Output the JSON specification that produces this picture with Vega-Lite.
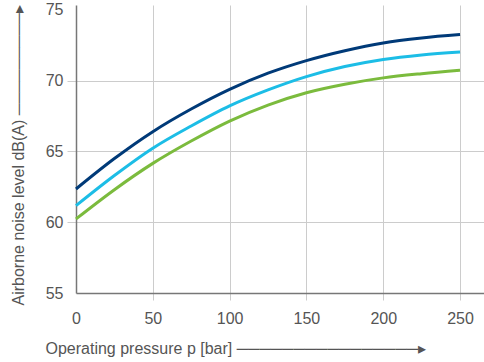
{
  "$schema": "https://vega.github.io/schema/vega-lite/v6.json",
  "width": 408,
  "height": 288,
  "autosize": {"type": "none"},
  "padding": {"left": 76, "top": 5, "right": 0, "bottom": 69},
  "background": "white",
  "config": {
    "view": {"stroke": null},
    "font": "Liberation Sans"
  },
  "data": {
    "values": [
      {"series": "A", "p": 0, "dB": 62.35},
      {"series": "A", "p": 25, "dB": 64.5},
      {"series": "A", "p": 50, "dB": 66.4},
      {"series": "A", "p": 75, "dB": 68.0},
      {"series": "A", "p": 100, "dB": 69.39},
      {"series": "A", "p": 125, "dB": 70.53},
      {"series": "A", "p": 150, "dB": 71.42},
      {"series": "A", "p": 175, "dB": 72.12},
      {"series": "A", "p": 200, "dB": 72.67},
      {"series": "A", "p": 225, "dB": 73.02},
      {"series": "A", "p": 250, "dB": 73.26},
      {"series": "B", "p": 0, "dB": 61.17},
      {"series": "B", "p": 25, "dB": 63.3},
      {"series": "B", "p": 50, "dB": 65.23},
      {"series": "B", "p": 75, "dB": 66.8},
      {"series": "B", "p": 100, "dB": 68.22},
      {"series": "B", "p": 125, "dB": 69.35},
      {"series": "B", "p": 150, "dB": 70.29},
      {"series": "B", "p": 175, "dB": 71.0},
      {"series": "B", "p": 200, "dB": 71.5},
      {"series": "B", "p": 225, "dB": 71.82},
      {"series": "B", "p": 250, "dB": 72.03},
      {"series": "C", "p": 0, "dB": 60.23},
      {"series": "C", "p": 25, "dB": 62.3},
      {"series": "C", "p": 50, "dB": 64.16},
      {"series": "C", "p": 75, "dB": 65.74},
      {"series": "C", "p": 100, "dB": 67.15},
      {"series": "C", "p": 125, "dB": 68.28},
      {"series": "C", "p": 150, "dB": 69.15},
      {"series": "C", "p": 175, "dB": 69.75},
      {"series": "C", "p": 200, "dB": 70.2},
      {"series": "C", "p": 225, "dB": 70.5},
      {"series": "C", "p": 250, "dB": 70.74}
    ]
  },
  "mark": {"type": "line", "strokeWidth": 3, "interpolate": "monotone"},
  "encoding": {
    "x": {
      "field": "p",
      "type": "quantitative",
      "scale": {"domain": [0, 265.6], "nice": false, "zero": false},
      "axis": {
        "values": [0, 50, 100, 150, 200, 250],
        "title": "Operating pressure p [bar]     ────────────────▸",
        "titleFont": "Liberation Sans",
        "titleFontSize": 16,
        "titleFontWeight": "normal",
        "titleColor": "#555555",
        "titleAnchor": "start",
        "titleAlign": "left",
        "titleBaseline": "middle",
        "titleX": -31,
        "titleY": 55,
        "labelFontSize": 16,
        "labelColor": "#555555",
        "labelPadding": 10,
        "labelFlush": false,
        "tickSize": 7,
        "tickColor": "#cccccc",
        "tickOpacity": {"condition": {"test": "datum.value == 0", "value": 0}, "value": 1},
        "grid": true,
        "gridColor": "#cccccc",
        "gridWidth": 1,
        "gridOpacity": {"condition": {"test": "datum.value == 0", "value": 0}, "value": 1},
        "domainColor": "#777777",
        "domainWidth": 1.5
      }
    },
    "y": {
      "field": "dB",
      "type": "quantitative",
      "scale": {"domain": [55, 75.35], "nice": false, "zero": false},
      "axis": {
        "values": [55, 60, 65, 70, 75],
        "title": "Airborne noise level dB(A) ─────────▸",
        "titleFont": "Liberation Sans",
        "titleFontSize": 16,
        "titleFontWeight": "normal",
        "titleColor": "#555555",
        "titleAngle": 270,
        "titleAnchor": "start",
        "titleAlign": "left",
        "titleBaseline": "middle",
        "titleX": -58,
        "titleY": 300,
        "labelFontSize": 16,
        "labelColor": "#555555",
        "labelPadding": 4,
        "labelFlush": false,
        "tickSize": 9,
        "tickColor": "#cccccc",
        "tickOpacity": {"condition": {"test": "datum.value == 55 || datum.value == 75", "value": 0}, "value": 1},
        "grid": true,
        "gridColor": "#cccccc",
        "gridWidth": 1,
        "gridOpacity": {"condition": {"test": "datum.value == 55 || datum.value == 75", "value": 0}, "value": 1},
        "domainColor": "#777777",
        "domainWidth": 1.5
      }
    },
    "color": {
      "field": "series",
      "type": "nominal",
      "scale": {"domain": ["A", "B", "C"], "range": ["#003a78", "#1cbde6", "#7bbb3d"]},
      "legend": null
    }
  }
}
